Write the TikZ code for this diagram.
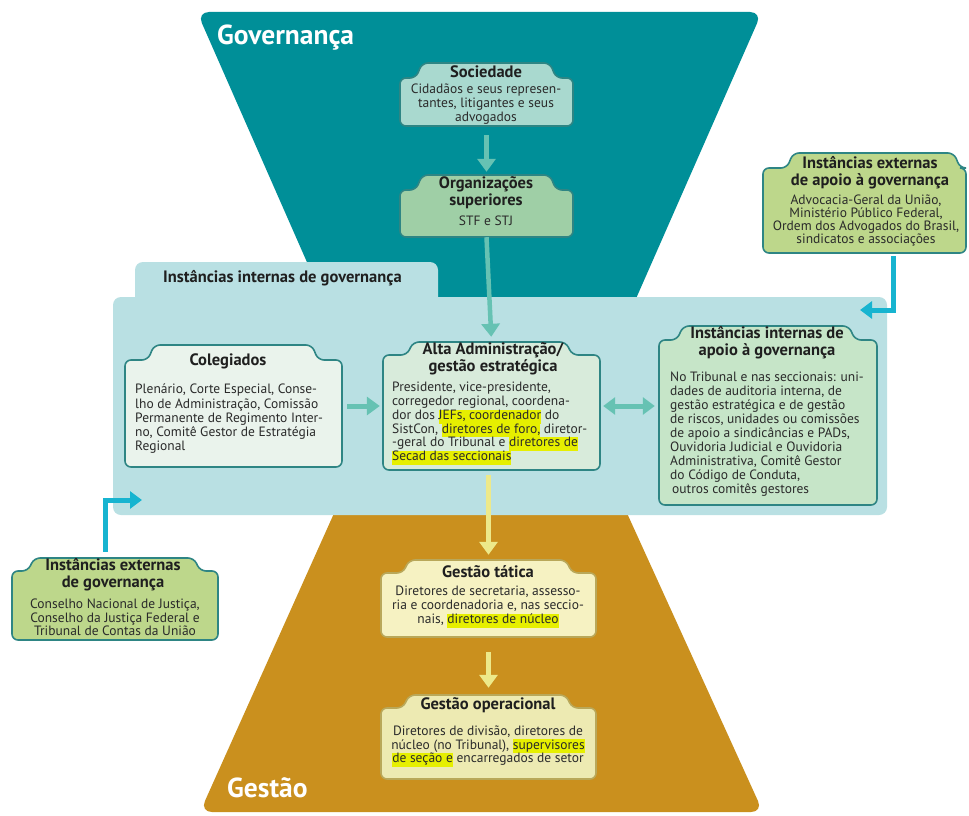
\documentclass[tikz,border=0pt]{standalone}
\usepackage{fontspec}
\setmainfont{PT Sans}
\usetikzlibrary{arrows.meta,fit,calc}

\definecolor{govteal}{HTML}{008F98}
\definecolor{gestgold}{HTML}{CA901E}
\definecolor{panelblue}{HTML}{B9E0E3}
\definecolor{arrowteal}{HTML}{66C2B3}
\definecolor{arrowcyan}{HTML}{17B4D0}
\definecolor{arrowyellow}{HTML}{EDE98A}
\definecolor{hlyellow}{HTML}{E6EF00}
\definecolor{edgeteal}{HTML}{2E8584}
\definecolor{edgegold}{HTML}{B9A85A}
\definecolor{fillsoc}{HTML}{A9D9CF}
\definecolor{fillorg}{HTML}{9FCFA6}
\definecolor{fillext}{HTML}{BDD78B}
\definecolor{fillcol}{HTML}{EAF3EC}
\definecolor{fillalta}{HTML}{D8EBDB}
\definecolor{fillapoio}{HTML}{C6E5C8}
\definecolor{filltat}{HTML}{F6F2C2}
\definecolor{filloper}{HTML}{EDEAB2}
\definecolor{inktext}{HTML}{2A2A2A}

% highlighter pen behind a run of words
\newcommand{\marca}[1]{{\setlength{\fboxsep}{0pt}\colorbox{hlyellow}{\strut #1}}}

% box with a raised title tab:
% #1 name, #2 style, #3 left, #4 right, #5 tab top, #6 body top, #7 bottom, #8 tab left, #9 tab right
\newcommand{\tabbox}[9]{%
  \draw[#2, rounded corners=6pt] ({(#3+#4)/2},#7) -- (#3,#7) -- (#3,#6) -- (#8-5,#6) -- (#8+1,#5)
    -- (#9-1,#5) -- (#9+5,#6) -- (#4,#6) -- (#4,#7) -- cycle;
  \node[fit={(#3,#5) (#4,#7)}, inner sep=0pt] (#1) {};
}

\tikzset{
  boxteal/.style={draw=edgeteal, line width=1.6pt},
  boxgold/.style={draw=edgegold, line width=1.6pt},
  bodytext/.style={font=\fontsize{13.5}{13.8}\selectfont, text=inktext, inner sep=0pt},
  titletext/.style={font=\fontsize{16.5}{16.8}\selectfont\bfseries, text=black!88, inner sep=0pt, align=center},
  bigtitle/.style={font=\fontsize{27.5}{30}\selectfont\bfseries, text=white, inner sep=0pt, anchor=west},
  tealarrow/.style={draw=arrowteal, line width=5pt, -{Triangle[width=18pt,length=13pt]}},
  tealboth/.style={draw=arrowteal, line width=5pt, {Triangle[width=17pt,length=12pt]}-{Triangle[width=17pt,length=12pt]}},
  yellowarrow/.style={draw=arrowyellow, line width=5pt, -{Triangle[width=18pt,length=13pt]}},
  cyanarrow/.style={draw=arrowcyan, line width=5pt, -{Triangle[width=17pt,length=12pt]}},
}

\begin{document}
\begin{tikzpicture}[x=1pt, y=-1pt]
\useasboundingbox (0,0) rectangle (969,816);
\fill[white] (0,0) rectangle (969,816);

% governance funnel (top) and management funnel (bottom)
\fill[govteal, rounded corners=12pt] (197,12) -- (762,12) -- (631,310) -- (328,310) -- cycle;
\fill[gestgold, rounded corners=12pt] (340,500) -- (621,500) -- (763,812) -- (200,812) -- cycle;

% internal governance panel with its tab
\fill[panelblue, rounded corners=8pt] (135,262) rectangle (438,310);
\fill[panelblue, rounded corners=8pt] (113,297) rectangle (887,515);

\node[bigtitle] (govLabel) at (217,38) {Governança};
\node[bigtitle] (gestLabel) at (227,788) {Gestão};
\node[titletext, anchor=west] (panelT) at (163,278) {Instâncias internas de governança};

% boxes
\tabbox{soc}{boxteal, fill=fillsoc}{400}{573}{63}{78}{126}{421}{551}
\tabbox{org}{boxteal, fill=fillorg}{400}{573}{175}{190}{237}{421}{551}
\tabbox{col}{boxteal, fill=fillcol}{125}{342}{345}{360}{467}{153}{313}
\tabbox{alta}{boxteal, fill=fillalta}{383}{600}{342}{355}{470}{412}{567}
\tabbox{apoio}{boxteal, fill=fillapoio}{659}{877}{326}{340}{505}{682}{850}
\tabbox{extap}{boxteal, fill=fillext}{763}{966}{153}{168}{253}{792}{955}
\tabbox{extgov}{boxteal, fill=fillext}{12}{218}{558}{571}{640}{33}{195}
\tabbox{tat}{boxgold, fill=filltat}{381}{596}{560}{573}{637}{408}{567}
\tabbox{oper}{boxgold, fill=filloper}{381}{596}{695}{708}{779}{408}{567}

% box texts
\node[titletext] (socT) at (486,72) {Sociedade};
\node[bodytext, align=center, anchor=north] (socB) at (486,84)
  {Cidadãos e seus represen-\\tantes, litigantes e seus\\advogados};

\node[titletext] (orgT) at (486,193) {Organizações\\superiores};
\node[bodytext] (orgB) at (486,221) {STF e STJ};

\node[titletext] (colT) at (228,361) {Colegiados};
\node[bodytext, align=left, anchor=north west, font=\fontsize{13.5}{14.2}\selectfont] (colB) at (135,384)
  {Plenário, Corte Especial, Conse-\\lho de Administração, Comissão\\Permanente de Regimento Inter-\\no, Comitê Gestor de Estratégia\\Regional};

\node[titletext] (altaT) at (493,358.5) {Alta Administração/\\gestão estratégica};
\node[bodytext, align=left, anchor=north west] (altaB) at (392,382)
  {Presidente, vice-presidente,\\corregedor regional, coordena-\\dor dos \marca{JEFs, coordenador} do\\SistCon, \marca{diretores de foro,} diretor-\\-geral do Tribunal e \marca{diretores de}\\\marca{Secad das seccionais}};

\node[titletext] (apoioT) at (767,343) {Instâncias internas de\\apoio à governança};
\node[bodytext, align=left, anchor=north west, font=\fontsize{13.5}{14}\selectfont] (apoioB) at (670,372)
  {No Tribunal e nas seccionais: uni-\\dades de auditoria interna, de\\gestão estratégica e de gestão\\de riscos, unidades ou comissões\\de apoio a sindicâncias e PADs,\\Ouvidoria Judicial e Ouvidoria\\Administrativa, Comitê Gestor\\do Código de Conduta,\\\hspace{2pt}outros comitês gestores};

\node[titletext] (extapT) at (870,172.5) {Instâncias externas\\de apoio à governança};
\node[bodytext, align=center, anchor=north, font=\fontsize{13.5}{12.8}\selectfont] (extapB) at (866,195)
  {Advocacia-Geral da União,\\Ministério Público Federal,\\Ordem dos Advogados do Brasil,\\sindicatos e associações};

\node[titletext] (extgovT) at (113,575) {Instâncias externas\\de governança};
\node[bodytext, align=center, anchor=north] (extgovB) at (115,598.5)
  {Conselho Nacional de Justiça,\\Conselho da Justiça Federal e\\Tribunal de Contas da União};

\node[titletext] (tatT) at (488,572) {Gestão tática};
\node[bodytext, align=center, anchor=north] (tatB) at (488,586)
  {Diretores de secretaria, assesso-\\ria e coordenadoria e, nas seccio-\\nais, \marca{diretores de núcleo}};

\node[titletext] (operT) at (488,705) {Gestão operacional};
\node[bodytext, align=center, anchor=north] (operB) at (488,725.5)
  {Diretores de divisão, diretores de\\núcleo (no Tribunal), \marca{supervisores}\\\marca{de seção e} encarregados de setor};

% connectors
\draw[tealarrow, shorten <=9pt, shorten >=3pt] (soc.south) -- (org.north);
\draw[tealarrow, line width=4.5pt, shorten >=5pt] (org.south) -- (alta.north);
\draw[tealarrow, shorten <=5pt, shorten >=3pt] (col.east) -- (col.east -| alta.west);
\draw[tealboth, shorten <=3pt, shorten >=4pt] (alta.east |- col.east) -- (apoio.west |- col.east);
\draw[yellowarrow, shorten <=5pt, shorten >=5pt] (tat.north |- alta.south) -- (tat.north);
\draw[yellowarrow, shorten <=15pt, shorten >=7pt] (tat.south) -- (oper.north);

\coordinate (apTurn) at (893,310);
\coordinate (apIn) at (860,310);
\draw[cyanarrow, shorten <=3pt] (extap.south -| apTurn) -- (apTurn) -- (apIn);

\coordinate (gvTurn) at (105,500);
\coordinate (gvIn) at (142,500);
\draw[cyanarrow, shorten <=6pt] (extgov.north -| gvTurn) -- (gvTurn) -- (gvIn);
\end{tikzpicture}
\end{document}
